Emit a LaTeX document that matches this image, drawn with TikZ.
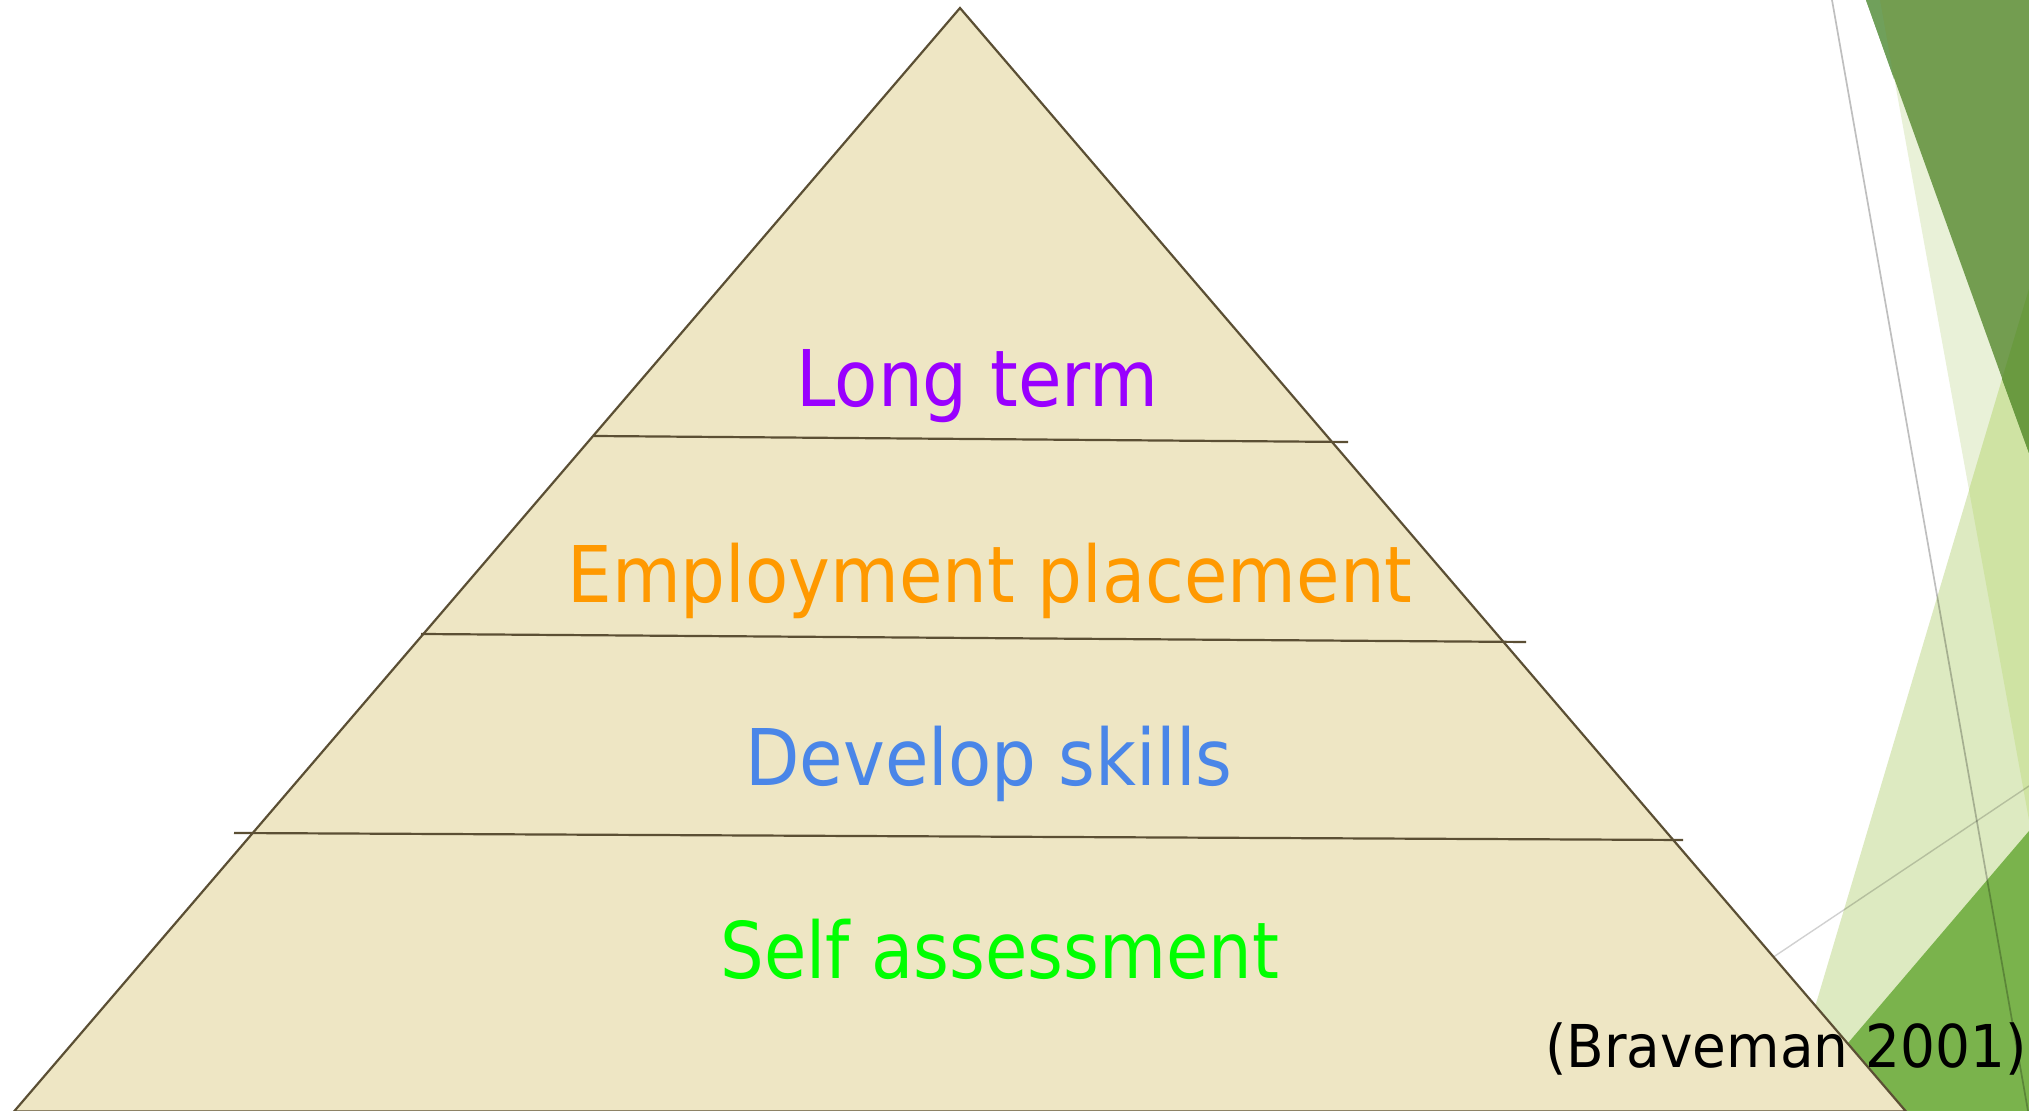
\documentclass[tikz,border=0pt]{standalone}
\usepackage{fontspec}
\setmainfont{DejaVu Sans}
\usepackage{graphicx}
\definecolor{pyrfill}{HTML}{EEE6C4}
\definecolor{pyredge}{HTML}{5B4F34}
\definecolor{txtpurple}{HTML}{9900FF}
\definecolor{txtorange}{HTML}{FF9900}
\definecolor{txtblue}{HTML}{4A86E8}
\definecolor{txtgreen}{HTML}{00FF00}
\definecolor{gstripe}{HTML}{E9F1D8}
\definecolor{glight}{HTML}{DDEAC1}
\definecolor{glightstripe}{HTML}{CFE3A3}
\definecolor{gdark}{HTML}{739D50}
\definecolor{gdarkwhite}{HTML}{70A05B}
\definecolor{gdarklight}{HTML}{6A9A40}
\definecolor{gmid}{HTML}{7AB34C}
\begin{document}
\begin{tikzpicture}[x=0.1mm,y=-0.1mm,
  edgeline/.style={draw=pyredge, line width=0.22mm},
  tiertext/.style={anchor=base, inner sep=0pt, outer sep=0pt,
    font=\fontsize{22.25pt}{26pt}\selectfont},
  citetext/.style={anchor=base, inner sep=0pt, outer sep=0pt,
    font=\fontsize{16.8pt}{20pt}\selectfont, text=black},
  thinline/.style={draw=black, line width=0.17mm}]
\useasboundingbox (0,0) rectangle (2029,1111);
\clip (0,0) rectangle (2029,1111);
\fill[white] (0,0) rectangle (2029,1111);
% background facets
\fill[gstripe] (1880,0) -- (2029,0) -- (2029,820) -- cycle;
\fill[glight] (2029,289) -- (1784,1111) -- (2029,1111) -- cycle;
\fill[glightstripe] (2029,289) -- (1969,490) -- (2029,820) -- cycle;
\fill[gdark] (1866,0) -- (2029,0) -- (2029,453) -- cycle;
\fill[gdarkwhite] (1866,0) -- (1880,0) -- (1894,79) -- cycle;
\fill[gdarklight] (2029,289) -- (2002,379) -- (2029,453) -- cycle;
\fill[gmid] (2029,831) -- (1790,1111) -- (2029,1111) -- cycle;
% thin grey lines
\coordinate (g1a) at (1832,0);
\coordinate (g1b) at (2028,1111);
\coordinate (g2a) at (1760,966);
\coordinate (g2b) at (2029,786);
\draw[thinline, opacity=0.25] (g1a) -- (g1b);
\draw[thinline, opacity=0.18, line width=0.14mm] (g2a) -- (g2b);
% pyramid
\coordinate (apex) at (960,8);
\coordinate (bl) at (14,1111.5);
\coordinate (br) at (1906,1111.5);
\filldraw[fill=pyrfill, edgeline, line join=miter] (apex) -- (bl) -- (br) -- cycle;
% tier separators
\coordinate (s1a) at (594,436);
\coordinate (s1b) at (1348,442);
\coordinate (s2a) at (421,634);
\coordinate (s2b) at (1526,642);
\coordinate (s3a) at (234,833);
\coordinate (s3b) at (1683,840);
\draw[edgeline] (s1a) -- (s1b);
\draw[edgeline] (s2a) -- (s2b);
\draw[edgeline] (s3a) -- (s3b);
% texts
\node[tiertext, text=txtpurple] (longterm) at (977.5,407) {\resizebox{36.2mm}{\height}{Long term}};
\node[tiertext, text=txtorange] (employ) at (990,603) {\resizebox{84.5mm}{\height}{Employment placement}};
\node[tiertext, text=txtblue] (develop) at (989,786) {\resizebox{48.7mm}{\height}{Develop skills}};
\node[tiertext, text=txtgreen] (selfass) at (1000,979) {\resizebox{55.9mm}{\height}{Self assessment}};
\node[citetext] (cite) at (1786,1068) {\resizebox{48.2mm}{\height}{(Braveman 2001)}};
\end{tikzpicture}
\end{document}
